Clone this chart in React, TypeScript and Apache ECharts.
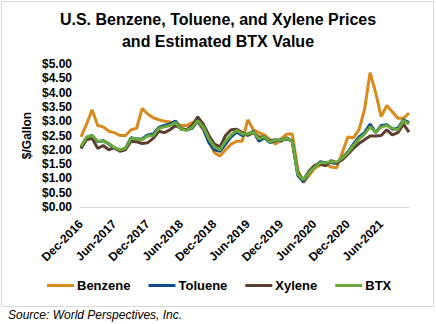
import React, { useEffect, useRef } from "react";
import * as echarts from "echarts";

const months = [
  "Dec-2016","Jan-2017","Feb-2017","Mar-2017","Apr-2017","May-2017","Jun-2017","Jul-2017","Aug-2017","Sep-2017","Oct-2017","Nov-2017",
  "Dec-2017","Jan-2018","Feb-2018","Mar-2018","Apr-2018","May-2018","Jun-2018","Jul-2018","Aug-2018","Sep-2018","Oct-2018","Nov-2018",
  "Dec-2018","Jan-2019","Feb-2019","Mar-2019","Apr-2019","May-2019","Jun-2019","Jul-2019","Aug-2019","Sep-2019","Oct-2019","Nov-2019",
  "Dec-2019","Jan-2020","Feb-2020","Mar-2020","Apr-2020","May-2020","Jun-2020","Jul-2020","Aug-2020","Sep-2020","Oct-2020","Nov-2020",
  "Dec-2020","Jan-2021","Feb-2021","Mar-2021","Apr-2021","May-2021","Jun-2021","Jul-2021","Aug-2021","Sep-2021","Oct-2021","Nov-2021",
];

const benzene = [
  2.45, 2.9, 3.4, 2.85, 2.8, 2.65, 2.6, 2.5, 2.5, 2.7, 2.75, 3.45,
  3.25, 3.12, 3.05, 3.0, 2.97, 2.93, 2.85, 2.85, 2.95, 2.98, 2.7, 2.3,
  1.9, 1.78, 2.0, 2.2, 2.3, 2.3, 3.05, 2.7, 2.6, 2.52, 2.35, 2.2,
  2.38, 2.55, 2.55, 1.3, 0.85, 1.1, 1.35, 1.47, 1.48, 1.4, 1.37, 1.9,
  2.45, 2.42, 2.7, 3.4, 4.7, 4.0, 3.16, 3.55, 3.33, 3.1, 3.1, 3.28,
];

const toluene = [
  2.05, 2.42, 2.5, 2.28, 2.32, 2.2, 2.05, 1.98, 2.05, 2.42, 2.38, 2.38,
  2.52, 2.55, 2.78, 2.85, 2.9, 3.0, 2.72, 2.7, 2.75, 3.0, 2.75, 2.25,
  2.0, 1.95, 2.2, 2.45, 2.62, 2.5, 2.55, 2.65, 2.3, 2.42, 2.25, 2.32,
  2.35, 2.38, 2.3, 1.1, 0.88, 1.2, 1.4, 1.58, 1.55, 1.55, 1.52, 1.72,
  1.92, 2.2, 2.45, 2.6, 2.9, 2.6, 2.85, 2.88, 2.72, 2.75, 3.05, 2.95,
];

const xylene = [
  2.05, 2.35, 2.4, 2.05, 2.15, 2.0, 2.08, 1.95, 2.0, 2.3, 2.28, 2.22,
  2.25, 2.4, 2.65, 2.6, 2.7, 2.85, 2.75, 2.7, 2.85, 3.15, 2.9, 2.5,
  2.2, 2.1, 2.5, 2.7, 2.72, 2.6, 2.5, 2.6, 2.45, 2.45, 2.32, 2.35,
  2.3, 2.42, 2.3, 1.2, 0.95, 1.25, 1.45, 1.5, 1.45, 1.62, 1.55, 1.65,
  1.85, 2.05, 2.22, 2.35, 2.48, 2.48, 2.5, 2.7, 2.52, 2.6, 2.9, 2.62,
];

const btx = [
  2.12, 2.45, 2.5, 2.3, 2.3, 2.22, 2.08, 2.0, 2.05, 2.4, 2.38, 2.35,
  2.48, 2.5, 2.75, 2.8, 2.85, 2.95, 2.72, 2.68, 2.78, 3.02, 2.8, 2.38,
  2.1, 2.0, 2.3, 2.52, 2.68, 2.55, 2.55, 2.62, 2.38, 2.45, 2.28, 2.34,
  2.34, 2.4, 2.3, 1.15, 0.95, 1.2, 1.38, 1.55, 1.56, 1.58, 1.57, 1.72,
  1.9, 2.15, 2.38, 2.55, 2.8, 2.62, 2.8, 2.85, 2.75, 2.7, 3.02, 2.9,
];

const seriesNames = ["Benzene", "Toluene", "Xylene", "BTX"];
const seriesColors = ["#D98A1C", "#0E4A8C", "#5C3F2E", "#6AA83C"];

const FONT = "Liberation Sans, Arial, sans-serif";

export default function App() {
  const ref = useRef<HTMLDivElement>(null);
  useEffect(() => {
    document.body.style.margin = "0";
    const chart = echarts.init(ref.current!, null, { renderer: "svg" });
    const dataSets = [benzene, toluene, xylene, btx];
    chart.setOption({
      animation: false,
      textStyle: { fontFamily: FONT },
      title: {
        text: "U.S. Benzene, Toluene, and Xylene Prices\nand Estimated BTX Value",
        left: "center",
        top: 3,
        textStyle: { fontSize: 16, fontWeight: "bold", color: "#000", lineHeight: 22, fontFamily: FONT },
      },
      legend: {
        bottom: 27,
        left: 42,
        icon: "rect",
        itemWidth: 27,
        itemHeight: 3,
        itemGap: 18,
        textStyle: { fontSize: 13, fontWeight: "bold", color: "#000", fontFamily: FONT, padding: [0, 0, 0, -2] },
        data: seriesNames,
      },
      graphic: [
        {
          type: "rect",
          shape: { x: 1.5, y: 1.5, width: 432, height: 305 },
          style: { fill: "none", stroke: "#D9D9D9", lineWidth: 1 },
          silent: true,
        },
        {
          type: "text",
          left: 8,
          top: 309,
          style: {
            text: "Source: World Perspectives, Inc.",
            font: "italic 12px " + FONT,
            fill: "#000",
          },
        },
      ],
      grid: { left: 81, right: 27, top: 64, bottom: 117, containLabel: false },
      xAxis: {
        type: "category",
        data: months,
        boundaryGap: false,
        axisLine: { show: true, lineStyle: { color: "#D9D9D9", width: 1 } },
        axisTick: { show: false },
        axisLabel: {
          interval: 5,
          rotate: 45,
          margin: 15,
          fontSize: 12,
          fontWeight: "bold",
          color: "#000",
          fontFamily: FONT,
        },
        splitLine: { show: false },
      },
      yAxis: {
        type: "value",
        min: 0,
        max: 5,
        interval: 0.5,
        name: "$/Gallon",
        nameLocation: "middle",
        nameGap: 48,
        nameRotate: 90,
        nameMoveOverlap: false,
        nameTextStyle: { fontSize: 12, fontWeight: "bold", color: "#000", fontFamily: FONT },
        axisLine: { show: false },
        axisTick: { show: false },
        splitLine: { show: false },
        axisLabel: {
          fontSize: 12,
          fontWeight: "bold",
          color: "#000",
          margin: 9,
          fontFamily: FONT,
          formatter: (v: number) => "$" + v.toFixed(2),
        },
      },
      series: seriesNames.map((name, i) => ({
        name,
        type: "line",
        data: dataSets[i],
        showSymbol: false,
        symbol: "none",
        lineStyle: { width: 3, color: seriesColors[i] },
        itemStyle: { color: seriesColors[i] },
      })),
    });
    return () => chart.dispose();
  }, []);
  return <div ref={ref} style={{ width: 436, height: 324 }} />;
}
